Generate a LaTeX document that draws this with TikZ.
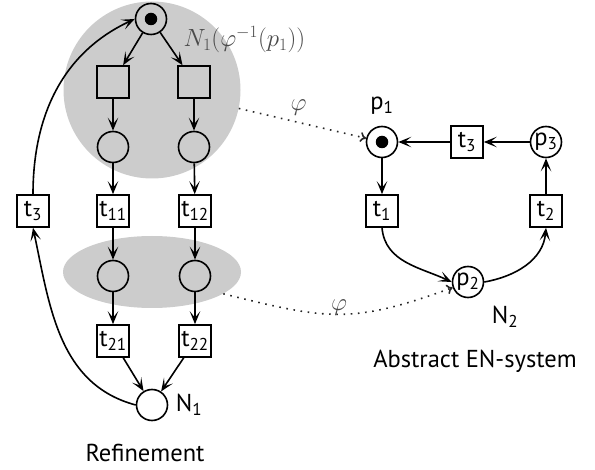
\documentclass[tikz,border=0pt]{standalone}
\usepackage[no-math]{fontspec}
\setmainfont{PT Sans}
\usetikzlibrary{arrows.meta,shapes.geometric}
\definecolor{shade}{HTML}{CCCCCC}
\definecolor{mapcol}{HTML}{4A4A4A}
\newcommand{\idx}[1]{\textsubscript{#1}}
\begin{document}
\begin{tikzpicture}[x=1pt,y=-1pt,
  every node/.style={font=\fontsize{24.5}{28}\selectfont},
  place/.style={circle,draw,line width=1.6pt,minimum size=31pt,inner sep=0pt},
  trans/.style={rectangle,draw,line width=1.6pt,minimum size=32pt,inner sep=0pt},
  token/.style={circle,fill,minimum size=12.5pt,inner sep=0pt},
  arc/.style={line width=1.6pt,-{Stealth[length=13pt,width=10.5pt,inset=6.5pt]}},
  map/.style={line width=1.6pt,dash pattern=on 1.6pt off 5.6pt,black!85,-{To[length=6pt,width=10pt]}},
  maplbl/.style={mapcol,font=\fontsize{27}{30}\selectfont},
  region/.style={fill=shade,draw=none,inner sep=0pt}]
\useasboundingbox (0,0) rectangle (595,470);

% shaded regions of the refinement
\node[region,circle,minimum size=177pt] (gc) at (152,90) {};
\node[region,ellipse,minimum width=178pt,minimum height=72pt] (ge) at (152,272) {};

% refinement net N1
\node[place] (tp) at (151,19) {};
\node[token] at (tp) {};
\node[trans] (sa) at (113,82) {};
\node[trans] (sb) at (194,82) {};
\node[place] (qa) at (113,147) {};
\node[place] (qb) at (194,147) {};
\node[trans] (ta) at (33,211) {t\idx{3}};
\node[trans] (tb) at (113,211) {t\idx{11}};
\node[trans] (tc) at (195,211) {t\idx{12}};
\node[place] (ra) at (113,276) {};
\node[place] (rb) at (195,276) {};
\node[trans] (ua) at (113,341) {t\idx{21}};
\node[trans] (ub) at (195,341) {t\idx{22}};
\node[place] (n1) at (152,405) {};
\node (n1lbl) at (189,405) {N\idx{1}};
\node (reflbl) at (145,453) {Refinement};
\node[maplbl,anchor=west] (sublbl) at (180,40) {$N_1(\varphi^{-1}(p_1))$};

\draw[arc] (tp) -- (sa);
\draw[arc] (tp) -- (sb);
\draw[arc] (sa) -- (qa);
\draw[arc] (sb) -- (qb);
\draw[arc] (qa) -- (tb);
\draw[arc] (qb) -- (tc);
\draw[arc] (tb) -- (ra);
\draw[arc] (tc) -- (rb);
\draw[arc] (ra) -- (ua);
\draw[arc] (rb) -- (ub);
\draw[arc] (ua) -- (n1);
\draw[arc] (ub) -- (n1);
\draw[arc] (n1.west) to[out=165,in=-78] (ta.south);
\draw[arc] (ta.north) to[out=90,in=205] (tp.west);

% abstract net N2
\node[place] (p1) at (382,142) {};
\node[token] at (p1) {};
\node (p1lbl) at (382,106) {p\idx{1}};
\node[trans] (t3) at (467,142) {t\idx{3}};
\node[place,label=center:{p\idx{3}}] (p3) at (546,142) {};
\node[trans] (t1) at (382,211) {t\idx{1}};
\node[trans] (t2) at (546,211) {t\idx{2}};
\node[place,label=center:{p\idx{2}}] (p2) at (468,282) {};
\node (n2lbl) at (505,317) {N\idx{2}};
\node (abslbl) at (475,361) {Abstract EN-system};

\draw[arc] (p3) -- (t3);
\draw[arc] (t3) -- (p1);
\draw[arc] (p1) -- (t1);
\draw[arc] (t1.south) to[out=-85,in=155] (p2.west);
\draw[arc] (p2.east) to[out=10,in=-95] (t2.south);
\draw[arc] (t2) -- (p3);

% the map phi
\draw[map] (gc.-12) -- (p1) node[maplbl,pos=0.47,above=3pt] (phia) {$\varphi$};
\draw[map] (ge.-17) to[out=-14,in=200,looseness=1.2] node[maplbl,pos=0.5,above=-5pt] (phib) {$\varphi$} (p2);
\end{tikzpicture}
\end{document}
